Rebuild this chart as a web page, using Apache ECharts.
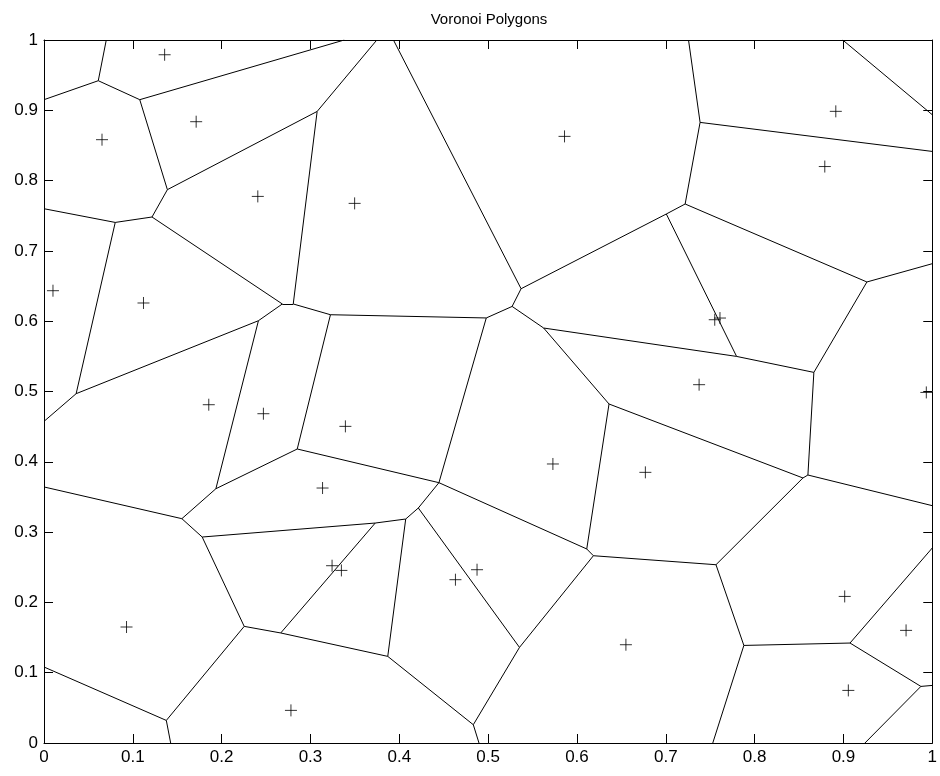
<!DOCTYPE html>
<html>
<head>
<meta charset="utf-8">
<script src="https://cdn.jsdelivr.net/npm/echarts@6/dist/echarts.min.js"></script>
<style>
  html, body { margin: 0; padding: 0; background: #fff; }
  #chart { width: 940px; height: 776px; }
</style>
</head>
<body>
<div id="chart"></div>
<script>
// ========== Voronoi polygons ==========
// generating points (the + markers)
const siteX = [0.1358, 0.1713, 0.0653, 0.2407, 0.3497, 0.5860, 0.8914, 0.8790, 0.0101, 0.1120,
               0.1855, 0.2470, 0.3393, 0.3136, 0.7375, 0.5729, 0.6770, 0.7551, 0.7610, 0.9933,
               0.0929, 0.3243, 0.3348, 0.4632, 0.4875, 0.2780, 0.6551, 0.9014, 0.9705, 0.9055];
const siteY = [0.9790, 0.8838, 0.8582, 0.7775, 0.7676, 0.8629, 0.8985, 0.8200, 0.6434, 0.6259,
               0.4812, 0.4684, 0.4504, 0.3627, 0.5097, 0.3969, 0.3850, 0.6021, 0.6045, 0.4987,
               0.1650, 0.2522, 0.2455, 0.2323, 0.2465, 0.0464, 0.1398, 0.2085, 0.1602, 0.0748];

// voronoi vertices (incl. where edges leave the axes box)
const vertices = [
  [0.0701, 1], [0, 0.9151], [0.0611, 0.9421], [0.1078, 0.9151], [0.3380, 1],
  [0.1389, 0.7871], [0.3075, 0.8984], [0.3747, 1], [0.1216, 0.7482], [0.0802, 0.7405],
  [0, 0.7600], [0.0362, 0.4969], [0, 0.4575], [0.2683, 0.6245], [0.2806, 0.6245],
  [0.2414, 0.6007], [0.3225, 0.6092], [0.4979, 0.6046], [0.5270, 0.6210], [0.5371, 0.6462],
  [0.3934, 1], [0.5625, 0.5903], [0.2851, 0.4182], [0.1935, 0.3617], [0.1552, 0.3191],
  [0, 0.3642], [0.1781, 0.2930], [0.3729, 0.3129], [0.4072, 0.3186], [0.4214, 0.3343],
  [0.4446, 0.3703], [0.6361, 0.4822], [0.6110, 0.2760], [0.6185, 0.2664], [0.5353, 0.1360],
  [0.4833, 0.0260], [0.4897, 0], [0.3870, 0.1232], [0.2665, 0.1565], [0.2254, 0.1659],
  [0.1377, 0.0321], [0, 0.1081], [0.1426, 0], [0.7386, 0.8828], [0.7256, 1],
  [1, 0.8415], [0.7218, 0.7667], [0.7006, 0.7525], [0.7797, 0.5499], [0.9264, 0.6558],
  [1, 0.6818], [0.8667, 0.5272], [0.8600, 0.3812], [1, 0.3376], [0.8544, 0.3770],
  [0.7565, 0.2536], [0.7879, 0.1388], [0.7529, 0], [0.9074, 0.1422], [1, 0.2774],
  [0.9872, 0.0805], [1, 0.0819], [0.9242, 0], [0.8992, 1], [1, 0.8937]
];

// voronoi edges as vertex index pairs
const edges = [
  [0, 2], [1, 2], [2, 3], [3, 4], [3, 5], [5, 6], [6, 7], [5, 8], [8, 9], [9, 10],
  [9, 11], [11, 12], [8, 13], [13, 14], [6, 14], [13, 15], [15, 11], [14, 16], [16, 17], [16, 22],
  [17, 18], [18, 19], [19, 20], [18, 21], [17, 30], [22, 30], [22, 23], [15, 23], [23, 24], [24, 25],
  [24, 26], [26, 27], [26, 39], [39, 38], [38, 27], [27, 28], [28, 29], [29, 30], [28, 37], [38, 37],
  [37, 35], [35, 36], [35, 34], [34, 29], [34, 33], [33, 32], [32, 30], [32, 31], [31, 21], [21, 48],
  [48, 47], [47, 19], [47, 46], [46, 43], [43, 44], [43, 45], [46, 49], [49, 50], [49, 51], [51, 48],
  [51, 52], [52, 53], [52, 54], [54, 31], [54, 55], [55, 33], [55, 56], [56, 57], [56, 58], [58, 59],
  [58, 60], [60, 61], [60, 62], [39, 40], [40, 41], [40, 42], [63, 64]
];

const tickStep = 0.1;
const chartTitle = 'Voronoi Polygons';

const FONT = '"Liberation Sans", Arial, Helvetica, sans-serif';
const fmt = v => String(+v.toFixed(1));

function makeAxis(pos, showLabel, margin) {
    return {
        type: 'value', min: 0, max: 1, interval: tickStep, position: pos,
        axisLine: { show: true, onZero: false, lineStyle: { color: '#000', width: 1 } },
        axisTick: { show: true, inside: true, length: 9, lineStyle: { color: '#000', width: 1 } },
        axisLabel: { show: showLabel, color: '#000', fontSize: 17, fontFamily: FONT, margin: margin, formatter: fmt },
        splitLine: { show: false }
    };
}

const chart = echarts.init(document.getElementById('chart'), null, { renderer: 'canvas' });
chart.setOption({
    animation: false,
    backgroundColor: '#fff',
    grid: { left: 44, right: 3, top: 40, bottom: 33 },
    graphic: [{
        type: 'text', x: 489, y: 20,
        style: { text: chartTitle, fill: '#000', font: '15px ' + FONT, textAlign: 'center', textVerticalAlign: 'middle' }
    }],
    xAxis: [makeAxis('bottom', true, 6), makeAxis('top', false, 6)],
    yAxis: [makeAxis('left', true, 6), makeAxis('right', false, 6)],
    series: [
        {
            type: 'lines', coordinateSystem: 'cartesian2d', xAxisIndex: 0, yAxisIndex: 0,
            silent: true,
            lineStyle: { color: '#000', width: 1, opacity: 1, curveness: 0 },
            data: edges.map(e => ({ coords: [vertices[e[0]], vertices[e[1]]] }))
        },
        {
            type: 'scatter', xAxisIndex: 0, yAxisIndex: 0,
            symbol: 'path://M0,5L10,5M5,0L5,10', symbolSize: 12,
            itemStyle: { color: 'transparent', borderColor: '#000', borderWidth: 1 },
            data: siteX.map((x, i) => [x, siteY[i]])
        }
    ]
});
</script>
</body>
</html>
